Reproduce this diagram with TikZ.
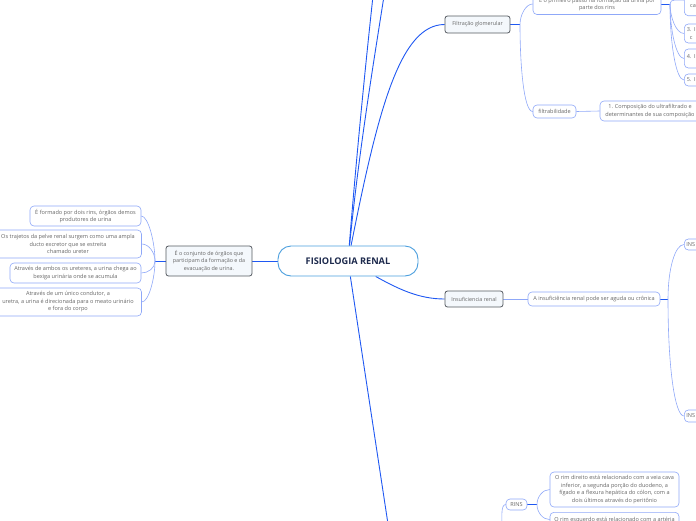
\documentclass[tikz,border=0pt]{standalone}
\usepackage{fontspec}
\setmainfont{Open Sans}
\usepackage{tikz}
\usetikzlibrary{calc,backgrounds}
\definecolor{RenalSky}{HTML}{4B9FDE}
\definecolor{RenalNavy}{HTML}{1D2A4D}
\definecolor{RenalBlue}{HTML}{1F58F2}
\definecolor{RenalLeaf}{HTML}{8FA8F8}
\definecolor{RenalGray}{HTML}{555A60}
\definecolor{RenalFill}{HTML}{F4F8FC}
\definecolor{RenalText}{HTML}{666666}

\tikzset{
  centralnode/.style={draw=RenalSky,line width=0.9pt,fill=white,rounded corners=13pt,
    minimum width=140pt,minimum height=30pt,inner sep=0pt,text=RenalNavy,
    font=\fontsize{9.2}{10}\selectfont\bfseries},
  topicnode/.style={draw=RenalGray,line width=0.8pt,fill=RenalFill,rounded corners=2.5pt,
    inner sep=0pt,align=center,text=RenalText,font=\fontsize{5.4}{7.5}\selectfont},
  leafnode/.style={draw=RenalLeaf,line width=0.6pt,fill=white,rounded corners=4pt,
    inner sep=0pt,align=center,text=RenalText,font=\fontsize{5.55}{7.5}\selectfont},
  leaftext/.style={inner sep=0pt,text=RenalText,font=\fontsize{5.55}{7.5}\selectfont},
  mainlink/.style={draw=RenalBlue,line width=0.9pt},
  sublink/.style={draw=RenalLeaf,line width=0.6pt},
}

\begin{document}
\begin{tikzpicture}[x=1pt,y=-1pt]
  \useasboundingbox (0,0) rectangle (696,520);
  \clip (0,0) rectangle (696,520);

  \node[centralnode] (renal) at (348,261) {FISIOLOGIA RENAL};

  \node[topicnode,minimum width=86pt,minimum height=30pt] (orgaos) at (209,261)
    {É o conjunto de órgãos que\\participam da formação e da\\evacuação de urina.};
  \node[leafnode,minimum width=111pt,minimum height=20pt] (doisrins) at (85.5,216)
    {É formado por dois rins, órgãos demos\\produtores de urina};
  \node[leafnode,minimum width=147pt,minimum height=28pt] (pelve) at (68,244)
    {Os trajetos da pelve renal surgem como uma ampla\\ducto excretor que se estreita\\chamado ureter};
  \node[leafnode,minimum width=131pt,minimum height=20pt] (ureteres) at (75.5,273)
    {Através de ambos os ureteres, a urina chega ao\\bexiga urinária onde se acumula};
  \node[leafnode,minimum width=147pt,minimum height=28pt] (uretra) at (68,302)
    {Através de um único condutor, a\\uretra, a urina é direcionada para o meato urinário\\e fora do corpo};
  \coordinate (jorgaos) at (155,261);

  \node[topicnode,minimum width=65pt,minimum height=17pt] (filtracao) at (477.5,24.5)
    {Filtração glomerular};
  \coordinate (jfiltracao) at (520,24.5);
  \node[leafnode,minimum width=128pt,minimum height=21pt] (passo) at (597,4)
    {É o primeiro passo na formação da urina por\\parte dos rins};
  \node[leafnode,minimum width=43pt,minimum height=13pt] (filtrab) at (554.5,111.5)
    {filtrabilidade};
  \node[leafnode,minimum width=100pt,minimum height=20pt] (ultra) at (650,111)
    {1. Composição do ultrafiltrado e\\determinantes de sua composição};
  \coordinate (jpasso) at (670,4);
  \node[leafnode,anchor=south west,minimum width=60pt,minimum height=31pt] (passoa) at (684,16) {};
  \node[leaftext,anchor=west] (passoatext) at (690,6) {ca};
  \node[leafnode,anchor=west,text width=55pt,align=left,inner xsep=2.5pt,minimum height=19pt]
    (passob) at (684,33.5) {3. I\\\hspace*{3pt}c};
  \node[leafnode,anchor=west,text width=55pt,align=left,inner xsep=2.5pt,minimum height=19pt]
    (passoc) at (684,58.5) {4. I\\[-3pt]\mbox{}};
  \node[leafnode,anchor=west,text width=55pt,align=left,inner xsep=2.5pt,minimum height=12pt]
    (passod) at (684,80) {5. I};

  \node[topicnode,minimum width=58pt,minimum height=16pt] (insuf) at (474,299)
    {Insuficiencia renal};
  \node[leafnode,minimum width=132pt,minimum height=14pt] (aguda) at (594,299)
    {A insuficiência renal pode ser aguda ou crônica};
  \coordinate (jaguda) at (668,299);
  \node[leafnode,anchor=west,text width=50pt,align=left,inner xsep=2pt,minimum height=11pt]
    (insa) at (684,244.5) {INS};
  \node[leafnode,anchor=west,text width=50pt,align=left,inner xsep=2pt,minimum height=12pt]
    (insb) at (684,416) {INS};

  \node[leafnode,minimum width=21pt,minimum height=11pt] (rinsbox) at (516.5,504.5) {RINS};
  \coordinate (jrins) at (537,504.5);
  \node[leafnode,minimum width=129pt,minimum height=35pt] (direito) at (614.5,489.5)
    {O rim direito está relacionado com a veia cava\\inferior, a segunda porção do duodeno, a\\fígado e a flexura hepática do cólon, com a\\dois últimos através do peritônio};
  \node[leafnode,anchor=north,minimum width=129pt,inner ysep=4.5pt] (esquerdo) at (614.5,512)
    {O rim esquerdo está relacionado com a artéria};

  \coordinate (upa) at (373,-4);
  \coordinate (upb) at (384,-4);
  \coordinate (down) at (388,524);
  \coordinate (rinsfoot) at (502,526);

  \begin{scope}[on background layer]
    \draw[mainlink] (renal.west) -- (orgaos.east);
    \draw[mainlink] (renal) .. controls (357,150) and (366,60) .. (upa);
    \draw[mainlink] (renal) .. controls (359,150) and (374,60) .. (upb);
    \draw[mainlink] (renal) .. controls (378,110) and (400,24.5) .. (filtracao.west);
    \draw[mainlink] (renal) -- (down);
    \draw[mainlink] (renal) .. controls (400,290) and (420,299) .. (insuf.west);

    \draw[mainlink] (orgaos.west) -- (jorgaos);
    \draw[sublink] (jorgaos) to[out=90,in=0,in distance=7pt] (doisrins.east);
    \draw[sublink] (jorgaos) to[out=90,in=0,in distance=7pt] (pelve.east);
    \draw[sublink] (jorgaos) to[out=-90,in=0,in distance=7pt] (ureteres.east);
    \draw[sublink] (jorgaos) to[out=-90,in=0,in distance=7pt] (uretra.east);

    \draw[mainlink] (filtracao.east) -- (jfiltracao);
    \draw[sublink] (jfiltracao) to[out=90,in=180,in distance=7pt] (passo.west);
    \draw[sublink] (jfiltracao) to[out=-90,in=180,out distance=40pt,in distance=9pt] (filtrab.west);
    \draw[sublink] (filtrab.east) -- (ultra.west);
    \draw[mainlink] (passo.east) -- (jpasso);
    \draw[sublink] (jpasso) to[out=90,in=180,in distance=6pt] (passoa.west);
    \draw[sublink] (jpasso) to[out=-90,in=180,in distance=8pt] (passob.west);
    \draw[sublink] (jpasso) to[out=-90,in=180,out distance=25pt,in distance=8pt] (passoc.west);
    \draw[sublink] (jpasso) to[out=-90,in=180,out distance=40pt,in distance=8pt] (passod.west);

    \draw[sublink] (insuf.east) -- (aguda.west);
    \draw[mainlink] (aguda.east) -- (jaguda);
    \draw[sublink] (jaguda) to[out=90,in=180,out distance=30pt,in distance=9pt] (insa.west);
    \draw[sublink] (jaguda) to[out=-90,in=180,out distance=70pt,in distance=9pt] (insb.west);

    \draw[sublink] (rinsfoot) to[out=90,in=180,in distance=5pt] (rinsbox.west);
    \draw[mainlink] (rinsbox.east) -- (jrins);
    \draw[sublink] (jrins) to[out=90,in=180,in distance=7pt] (direito.west);
    \draw[sublink] (jrins) to[out=-90,in=180,in distance=7pt] (esquerdo.west);
  \end{scope}
\end{tikzpicture}
\end{document}
